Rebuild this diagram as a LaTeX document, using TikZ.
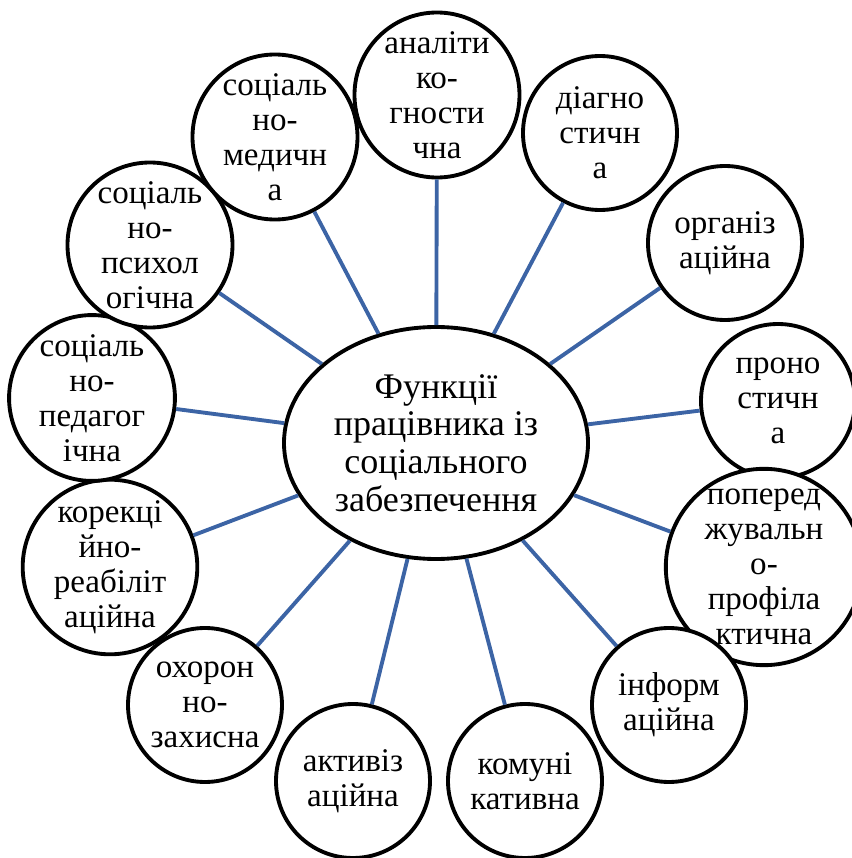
\documentclass[tikz,border=0pt]{standalone}
\usepackage{fontspec}
\setmainfont{Liberation Serif}
\usetikzlibrary{shapes.geometric}
\definecolor{linkblue}{RGB}{60,100,165}
\tikzset{
  func/.style={circle,draw,line width=2.2pt,fill=white,minimum size=3.08cm,inner sep=0pt,
    align=center,font=\fontsize{18.8}{20}\selectfont},
  hub/.style={ellipse,draw,line width=2.2pt,fill=white,minimum width=6.08cm,minimum height=4.64cm,
    inner sep=0pt,align=center,font=\fontsize{20.5}{21.5}\selectfont},
  link/.style={linkblue,line width=2.2pt}
}
\begin{document}
\begin{tikzpicture}
\useasboundingbox (0,0) rectangle (17.04,17.16);
\node [hub] (hub) at (8.72,8.30) {Функції\\працівника із\\соціального\\забезпечення};
% the functions, clockwise from the top
\node [func] (anal) at (8.74,15.26) {аналіти\\ко-\\гности\\чна};
\node [func] (diag) at (12.00,14.50) {діагно\\стичн\\а};
\node [func] (org) at (14.50,12.30) {організ\\аційна};
\node [func] (progn) at (15.56,9.14) {проно\\стичн\\а};
\node [func] (prof) at (15.28,5.82) {поперед\\жувальн\\о-\\профіла\\ктична};
\node [func] (inform) at (13.38,3.06) {інформ\\аційна};
\node [func] (komun) at (10.50,1.54) {комуні\\кативна};
\node [func] (aktiv) at (7.06,1.54) {активіз\\аційна};
\node [func] (okhor) at (4.10,3.06) {охорон\\но-\\захисна};
\node [func] (korek) at (2.20,5.82) {корекці\\йно-\\реабіліт\\аційна};
\node [func] (sped) at (1.84,9.20) {соціаль\\но-\\педагог\\ічна};
\node [func] (spsych) at (3.00,12.26) {соціаль\\но-\\психол\\огічна};
\node [func] (smed) at (5.50,14.42) {соціаль\\но-\\медичн\\а};
\foreach \f in {anal,diag,org,progn,prof,inform,komun,aktiv,okhor,korek,sped,spsych,smed}
  \draw [link] (hub) -- (\f);
\end{tikzpicture}
\end{document}
